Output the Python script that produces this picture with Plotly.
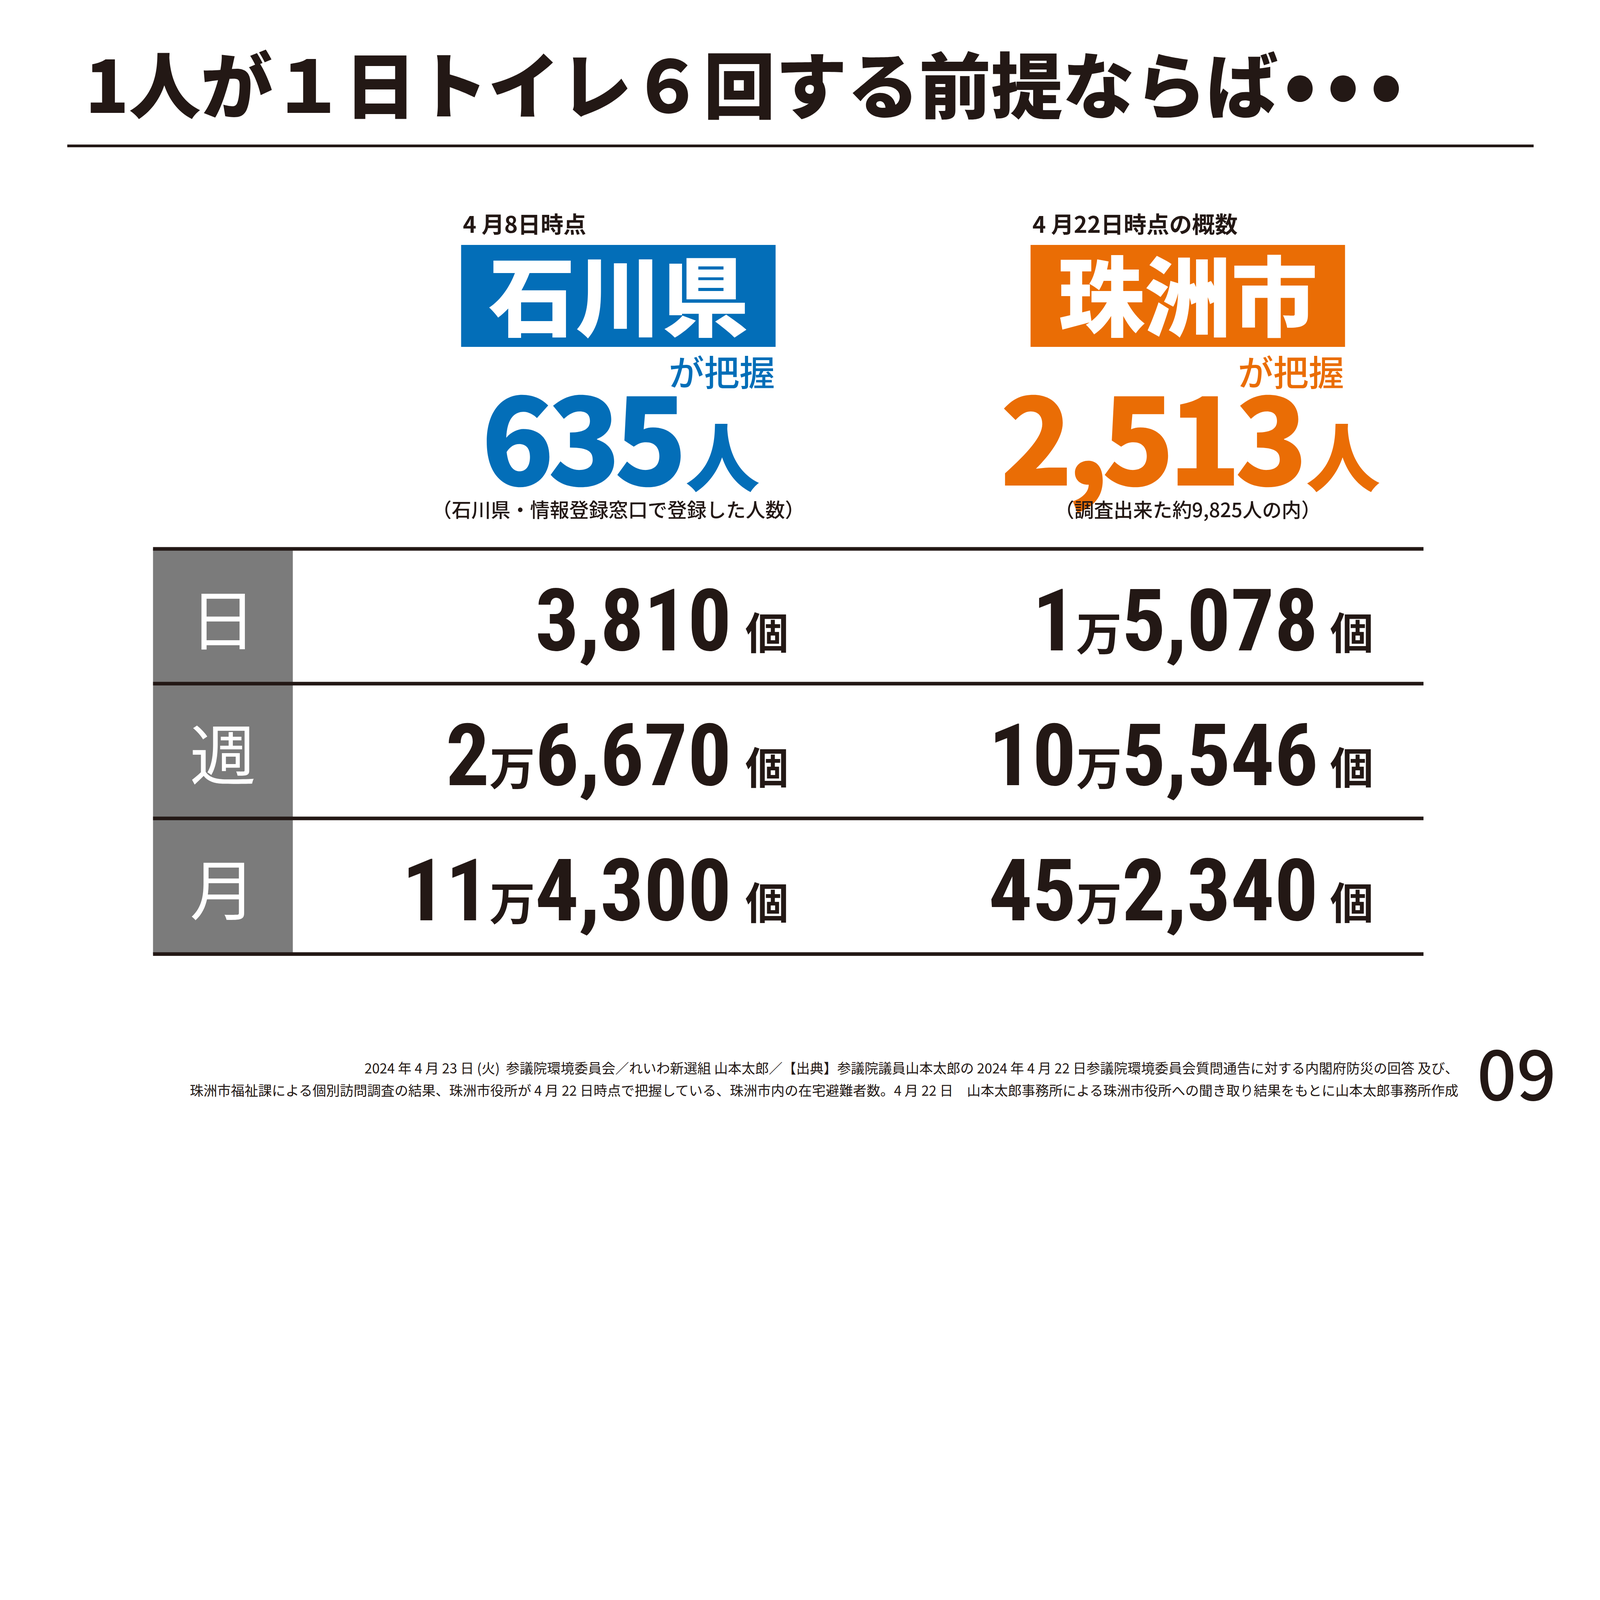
import plotly.graph_objects as go

# page drawn in the reference's pixel units, shown scaled to fit a 4096 px wide window
W, H = 7016, 4961
K = 4096 / W
OFF = 8 / K  # page body margin, in page units

title_text = "1人が１日トイレ６回する前提ならば"
title_dots = "•••"
areas = ["石川県", "珠洲市"]
area_notes = ["4 月8日時点", "4 月22日時点の概数"]
area_colors = ["#036eb8", "#ea6d05"]
people = [635, 2513]
people_notes = ["（石川県・情報登録窓口で登録した人数）", "（調査出来た約9,825人の内）"]

periods = ["日", "週", "月"]
ishikawa_counts = [3810, 26670, 114300]
suzu_counts = [15078, 105546, 452340]
unit = "個"

footer_lines = [
    "2024 年 4 月 23 日 (火)  参議院環境委員会／れいわ新選組 山本太郎／【出典】参議院議員山本太郎の 2024 年 4 月 22 日参議院環境委員会質問通告に対する内閣府防災の回答 及び、",
    "珠洲市福祉課による個別訪問調査の結果、珠洲市役所が 4 月 22 日時点で把握している、珠洲市内の在宅避難者数。4 月 22 日　山本太郎事務所による珠洲市役所への聞き取り結果をもとに山本太郎事務所作成",
]
page_no = "09"

INK = "#231815"
GRAY = "#7b7b7b"
JP = "Noto Sans CJK JP"
NARROW = "Liberation Sans Narrow, Roboto Condensed, DejaVu Sans Condensed, Noto Sans CJK JP"


def px(v):
    return round(v * K, 1)


def man(n):
    # 15078 -> 1万5,078
    if n >= 10000:
        return f"{n // 10000}<span style='font-size:{px(200)}px'>万</span>{n % 10000:,}"
    return f"{n:,}"


def tight(n, digit_sp=-28, comma_sp=-30):
    # big numbers are set tighter than the font's default spacing
    out = ""
    for part in f"{n:,}".split(","):
        if out:
            out += f"<span style='letter-spacing:{px(comma_sp)}px'>,</span>"
        out += f"<span style='letter-spacing:{px(digit_sp)}px'>{part}</span>"
    return out


def label(x, y, text, size, color=INK, family=JP, weight=400, xa="center", style=None):
    font = dict(family=family, size=px(size), color=color, weight=weight)
    if style:
        text = f"<span style='{style}'>{text}</span>"
    fig.add_annotation(x=x, y=y, text=text, xanchor=xa, yanchor="middle", showarrow=False, font=font)


fig = go.Figure()

# title and rule
label(370, 358, title_text, 315, weight=900, xa="left")
label(5625, 340, title_dots, 360, weight=900, xa="left", style=f"letter-spacing:{px(45)}px")
fig.add_shape(type="line", x0=295, x1=6725, y0=640, y1=640, line=dict(color=INK, width=px(12)))

# header blocks
box_left = [2022, 4519]
box_w = 1379
for i in range(2):
    x0 = box_left[i]
    x1 = x0 + box_w
    xc = (x0 + x1) / 2
    col = area_colors[i]
    label(x0 + 5, 978, area_notes[i], 100, weight=700, xa="left")
    fig.add_shape(type="rect", x0=x0, x1=x1, y0=1074, y1=1521, fillcolor=col, line=dict(width=0))
    label(xc, 1278, areas[i], 380, color="white", weight=900)
    label(x1, 1625, "が把握", 155, color=col, weight=500, xa="right")
    label(xc + 10, 1900, tight(people[i]) + f"<span style='font-size:{px(325)}px'>\u200a人</span>",
          525, color=col, weight=900)
    label(xc, 2230, people_notes[i], 86, weight=500)

# table
tx0, tx1, gx1 = 671, 6242, 1284
rules = [2407, 2998, 3589, 4184]
for r in range(3):
    fig.add_shape(type="rect", x0=tx0, x1=gx1, y0=rules[r], y1=rules[r + 1],
                  fillcolor=GRAY, line=dict(width=0), layer="below")
for y in rules:
    fig.add_shape(type="line", x0=tx0, x1=tx1, y0=y, y1=y, line=dict(color=INK, width=px(16)))

num_right = [3212, 5785]
unit_right = [3462, 6026]
for r in range(3):
    yc = (rules[r] + rules[r + 1]) / 2
    label((tx0 + gx1) / 2, yc, periods[r], 290, color="white")
    for c, vals in enumerate([ishikawa_counts, suzu_counts]):
        label(num_right[c], yc + 20, man(vals[r]), 380, family=NARROW, weight=700, xa="right")
        label(unit_right[c], yc + 62, unit, 190, weight=700, xa="right")

# footer
label(6400, 4681, footer_lines[0], 60, xa="right")
label(6400, 4779, footer_lines[1], 60, xa="right")
label(6650, 4692, page_no, 305, weight=500)

fig.update_layout(width=round(W * K), height=round(H * K), margin=dict(l=0, r=0, t=0, b=0),
                  paper_bgcolor="white", plot_bgcolor="white", showlegend=False,
                  xaxis=dict(range=[OFF, W + OFF], visible=False, fixedrange=True),
                  yaxis=dict(range=[H + OFF, OFF], visible=False, fixedrange=True))

fig.write_html("out.html")
